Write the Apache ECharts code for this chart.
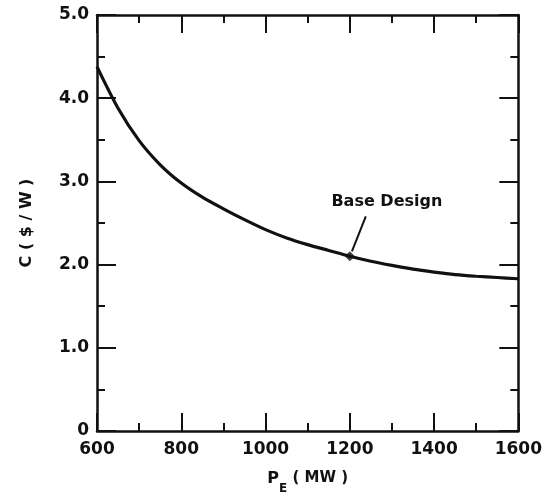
<!DOCTYPE html>
<html>
<head>
<meta charset="utf-8">
<script src="https://cdn.jsdelivr.net/npm/echarts@6/dist/echarts.min.js"></script>
<style>
html,body{margin:0;padding:0;background:#fff;}
#chart{width:545px;height:501px;}
</style>
</head>
<body>
<div id="chart"></div>
<script>
// Data
var powerMW = [600, 650, 700, 750, 800, 850, 900, 950, 1000, 1050, 1100, 1150, 1200, 1250, 1300, 1350, 1400, 1450, 1500, 1550, 1600];
var costPerW = [4.38, 3.88, 3.49, 3.20, 2.98, 2.81, 2.67, 2.54, 2.42, 2.32, 2.24, 2.17, 2.10, 2.04, 1.99, 1.945, 1.91, 1.88, 1.86, 1.845, 1.83];
var baseDesign = [1200, 2.10];
var baseLabel = 'Base Design';
var arrowFrom = [1238, 2.58];
var arrowTo = [1205, 2.16];
var labelAt = [1288, 2.75];

var curve = powerMW.map(function (p, i) { return [p, costPerW[i]]; });
var ink = '#111';
var font = '"DejaVu Sans", sans-serif';

var chart = echarts.init(document.getElementById('chart'));

function xAx(pos, showLabel) {
  return {
    type: 'value', position: pos, min: 600, max: 1600, interval: 200,
    axisLine: { show: true, onZero: false, lineStyle: { color: ink, width: 2.5 } },
    axisTick: { show: true, inside: true, length: 18, lineStyle: { color: ink, width: 2 } },
    minorTick: { show: true, splitNumber: 2, length: 8, lineStyle: { color: ink, width: 2 } },
    splitLine: { show: false },
    axisLabel: {
      show: showLabel, margin: 10, color: ink, fontFamily: font, fontWeight: 'bold', fontSize: 17,
      formatter: function (v) { return String(v); }
    },
    name: showLabel ? '{p|P}{s|E}{n| ( MW )}' : '',
    nameLocation: 'middle', nameGap: 40,
    nameTextStyle: {
      color: ink, fontFamily: font, fontWeight: 'bold',
      rich: {
        p: { fontSize: 16, fontFamily: font, fontWeight: 'bold', color: ink, verticalAlign: 'top', lineHeight: 24 },
        s: { fontSize: 12, fontFamily: font, fontWeight: 'bold', color: ink, verticalAlign: 'bottom', lineHeight: 24, padding: [12, 0, 0, 0] },
        n: { fontSize: 15, fontFamily: font, fontWeight: 'bold', color: ink, verticalAlign: 'top', lineHeight: 24 }
      }
    }
  };
}
function yAx(pos, showLabel) {
  return {
    type: 'value', position: pos, min: 0, max: 5, interval: 1,
    axisLine: { show: true, onZero: false, lineStyle: { color: ink, width: 2.5 } },
    axisTick: { show: true, inside: true, length: 19, lineStyle: { color: ink, width: 2 } },
    minorTick: { show: true, splitNumber: 2, length: 8, lineStyle: { color: ink, width: 2 } },
    splitLine: { show: false },
    axisLabel: {
      show: showLabel, margin: 8, color: ink, fontFamily: font, fontWeight: 'bold', fontSize: 17,
      formatter: function (v) { return v === 0 ? '0' : v.toFixed(1); }
    },
    name: showLabel ? 'C ( $ / W )' : '',
    nameLocation: 'middle', nameGap: 62, nameRotate: 90,
    nameTextStyle: { color: ink, fontFamily: font, fontWeight: 'bold', fontSize: 16 }
  };
}

chart.setOption({
  animation: false,
  backgroundColor: '#fff',
  grid: { left: 97, right: 26, top: 15, bottom: 70 },
  xAxis: [xAx('bottom', true), xAx('top', false)],
  yAxis: [yAx('left', true), yAx('right', false)],
  series: [
    {
      type: 'line', data: curve, smooth: 0.3, showSymbol: false,
      lineStyle: { color: ink, width: 3.2 },
      markLine: {
        silent: true, symbol: ['none', 'arrow'], symbolSize: [0, 9],
        lineStyle: { color: ink, width: 2, type: 'solid' },
        label: { show: false },
        data: [[{ coord: arrowFrom }, { coord: arrowTo }]]
      },
      markPoint: {
        silent: true, symbol: 'circle', symbolSize: 0,
        data: [{ coord: labelAt, value: baseLabel }],
        label: { show: true, formatter: baseLabel, color: ink, fontFamily: font, fontWeight: 'bold', fontSize: 16, position: 'inside' }
      }
    },
    {
      type: 'scatter', data: [baseDesign], symbol: 'diamond', symbolSize: 10,
      itemStyle: { color: ink }
    }
  ]
});
</script>
</body>
</html>
